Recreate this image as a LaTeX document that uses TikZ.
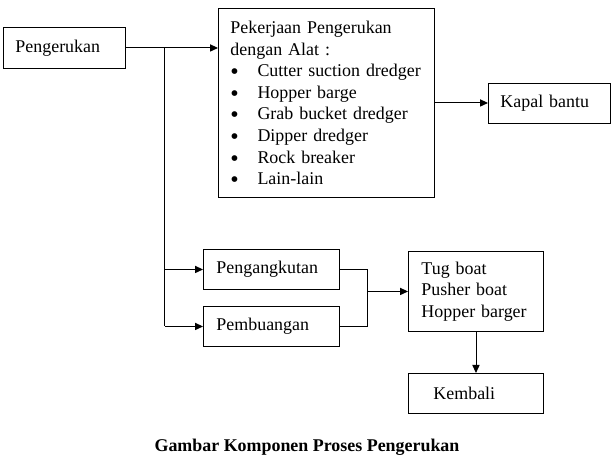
\documentclass[tikz,border=0pt]{standalone}
\usepackage{fontspec}
\setmainfont{Liberation Serif}
\usetikzlibrary{arrows.meta}
\newcommand{\pu}{0.625pt}
\newcommand{\bul}{\makebox[16.9pt][l]{\raisebox{-1.9pt}[0pt][0pt]{\fontsize{15}{13.5}\selectfont\textbullet}}}
\begin{document}
\begin{tikzpicture}[x=0.625pt,y=-0.625pt,font=\fontsize{11.2}{13.5}\selectfont]
    \tikzstyle{kotak}=[draw, line width=0.6pt, anchor=north west, align=left, inner ysep=0pt]
    \tikzstyle{garis}=[line width=0.6pt]
    \tikzstyle{panah}=[line width=0.6pt, -{Triangle[length=5pt,width=4.5pt]}]
    \useasboundingbox (0,0) rectangle (614,463);
    \node[kotak, minimum height=41*\pu, inner xsep=12*\pu, text width=98*\pu] (b1) at (3,27) {Pengerukan};
    \node[kotak, minimum height=189*\pu, inner xsep=12*\pu, text width=192*\pu] (b2) at (218,8)
      {Pekerjaan Pengerukan\\ dengan Alat :\\ \bul Cutter suction dredger\\ \bul Hopper barge\\
       \bul Grab bucket dredger\\ \bul Dipper dredger\\ \bul Rock breaker\\ \bul Lain-lain};
    \node[kotak, minimum height=40*\pu, inner xsep=12*\pu, text width=98*\pu] (b3) at (488,83) {Kapal bantu};
    \node[kotak, minimum height=40*\pu, inner xsep=13*\pu, text width=110*\pu] (b4) at (203,249) {Pengangkutan};
    \node[kotak, minimum height=40*\pu, inner xsep=13*\pu, text width=110*\pu] (b5) at (203,306) {Pembuangan};
    \node[kotak, minimum height=80*\pu, inner xsep=13*\pu, text width=109*\pu] (b6) at (408,251)
      {Tug boat\\ Pusher boat\\ Hopper barger};
    \node[kotak, minimum height=40*\pu, inner xsep=25*\pu, text width=85*\pu] (b7) at (408,373) {Kembali};
    \path (b1.east) ++(39,0) coordinate (j1);
    \path (b4.east) ++(28,0) coordinate (j2);
    \draw[garis] (b1.east) -- (j1) -- (j1 |- b5.west);
    \draw[panah] (j1) -- (j1 -| b2.west);
    \draw[panah] (j1 |- b4.west) -- (b4.west);
    \draw[panah] (j1 |- b5.west) -- (b5.west);
    \draw[panah] (b2.east) -- (b2.east -| b3.west);
    \draw[garis] (b4.east) -| (j2) |- (b5.east);
    \draw[panah] (j2 |- b6.west) -- (b6.west);
    \draw[panah] (b6.south) -- (b7.north);
    \node[font=\fontsize{11.2}{13.5}\selectfont\bfseries] (cap) at (307,447) {Gambar Komponen Proses Pengerukan};
  \end{tikzpicture}
\end{document}
